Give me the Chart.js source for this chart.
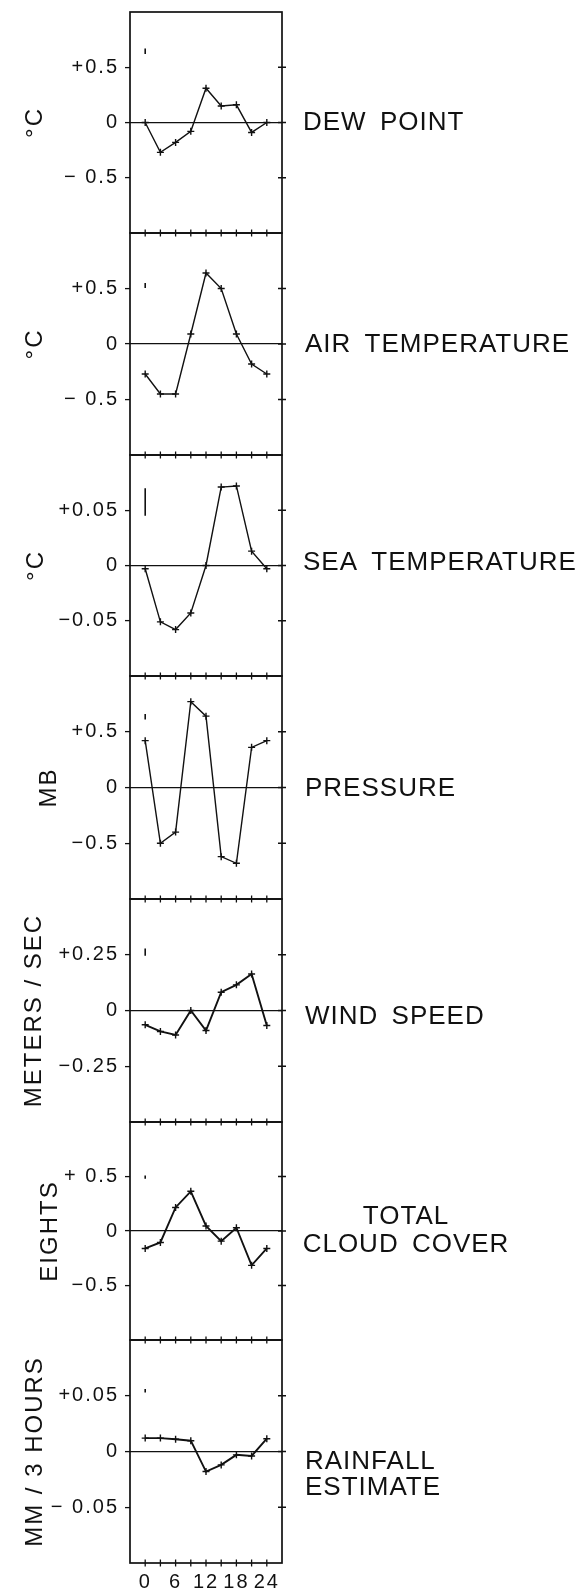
<!DOCTYPE html>
<html>
<head>
<meta charset="utf-8">
<script src="https://cdn.jsdelivr.net/npm/chart.js@4.4.1/dist/chart.umd.min.js"></script>
<style>
  html, body { margin: 0; padding: 0; background: #fff; }
  #page { position: relative; width: 587px; height: 1594px; overflow: hidden; background: #fff; }
  #page canvas { position: absolute; left: 0; }
</style>
</head>
<body>
<div id="page"></div>
<script>
// Hour of day (local time), 3-hourly composites
const hours = [0, 3, 6, 9, 12, 15, 18, 21, 24];

// Diurnal departures from the daily mean
const dewPoint   = [0.00, -0.27, -0.18, -0.08, 0.31, 0.15, 0.16, -0.09, 0.00];
const airTemp    = [-0.27, -0.45, -0.45, 0.09, 0.64, 0.50, 0.09, -0.18, -0.27];
const seaTemp    = [-0.003, -0.051, -0.058, -0.043, 0.000, 0.071, 0.072, 0.013, -0.003];
const pressure   = [0.42, -0.50, -0.40, 0.77, 0.64, -0.62, -0.68, 0.36, 0.42];
const windSpeed  = [-0.064, -0.094, -0.110, 0.000, -0.090, 0.082, 0.115, 0.164, -0.067];
const cloudCover = [-0.16, -0.105, 0.216, 0.364, 0.046, -0.093, 0.03, -0.315, -0.16];
const rainfall   = [0.012, 0.012, 0.011, 0.0097, -0.018, -0.012, -0.003, -0.004, 0.0115];

// Error bar for each variable: [low, high]
const errDewPoint   = [0.62, 0.67];
const errAirTemp    = [0.505, 0.55];
const errSeaTemp    = [0.045, 0.070];
const errPressure   = [0.61, 0.66];
const errWindSpeed  = [0.245, 0.278];
const errCloudCover = [0.48, 0.51];
const errRainfall   = [0.053, 0.056];

// Panel names and units
const panelNames = [
  ['DEW POINT'], ['AIR TEMPERATURE'], ['SEA TEMPERATURE'], ['PRESSURE'],
  ['WIND SPEED'], ['TOTAL', 'CLOUD COVER'], ['RAINFALL', 'ESTIMATE']
];
const unitTitles = ['°C', '°C', '°C', 'MB', 'METERS / SEC', 'EIGHTS', 'MM / 3 HOURS'];

// Axis ranges and y tick labels
const yLimits = [1, 1, 0.1, 1, 0.5, 1, 0.1];
const yTickValues = [
  [0.5, 0, -0.5], [0.5, 0, -0.5], [0.05, 0, -0.05], [0.5, 0, -0.5],
  [0.25, 0, -0.25], [0.5, 0, -0.5], [0.05, 0, -0.05]
];
const yTickLabels = [
  ['+0.5', '0', '\u2212 0.5'], ['+0.5', '0', '\u2212 0.5'], ['+0.05', '0', '\u22120.05'],
  ['+0.5', '0', '\u22120.5'], ['+0.25', '0', '\u22120.25'], ['+ 0.5', '0', '\u22120.5'],
  ['+0.05', '0', '\u2212 0.05']
];
const xTickValues = [0, 6, 12, 18, 24];
const xTickLabels = ['0', '6', '12', '18', '24'];

const series = [dewPoint, airTemp, seaTemp, pressure, windSpeed, cloudCover, rainfall];
const errors = [errDewPoint, errAirTemp, errSeaTemp, errPressure, errWindSpeed, errCloudCover, errRainfall];

// Page layout of the stacked panels (pixels)
const FONT = '"Liberation Sans", Arial, Helvetica, sans-serif';
const INK = '#111';
const PAD = 6;
const FRAME_LEFT = 130, FRAME_RIGHT = 282, PAGE_W = 587;
const panelLayout = [
  { top: 12,   bottom: 233,  titleX: 35, labelX: 303, labelY: [123],        align: 'left',   lw: 1.4 },
  { top: 233,  bottom: 455,  titleX: 35, labelX: 305, labelY: [345],        align: 'left',   lw: 1.4 },
  { top: 455,  bottom: 676,  titleX: 36, labelX: 303, labelY: [563],        align: 'left',   lw: 1.4 },
  { top: 676,  bottom: 899,  titleX: 49, labelX: 305, labelY: [789],        align: 'left',   lw: 1.4 },
  { top: 899,  bottom: 1122, titleX: 34, labelX: 305, labelY: [1017],       align: 'left',   lw: 1.9 },
  { top: 1122, bottom: 1340, titleX: 50, labelX: 406, labelY: [1217, 1245], align: 'center', lw: 1.9 },
  { top: 1340, bottom: 1563, titleX: 35, labelX: 305, labelY: [1462, 1488], align: 'left',   lw: 1.9 }
];

// Wider lettering for all chart text
const lettering = {
  id: 'lettering',
  beforeDraw(chart) {
    chart.ctx.letterSpacing = '2px';
  }
};

// Plot frame, tick crosses on bottom and right edges, and the variable name
const panelFrame = {
  id: 'panelFrame',
  afterDraw(chart, args, opts) {
    const { ctx, chartArea } = chart;
    const { left, right, top, bottom } = chartArea;
    const xs = chart.scales.x, ys = chart.scales.y;
    ctx.save();
    ctx.strokeStyle = INK;
    ctx.lineWidth = 1.7;
    ctx.strokeRect(left, top, right - left, bottom - top);

    ctx.lineWidth = 1.3;
    ctx.beginPath();
    hours.forEach(h => {
      const x = xs.getPixelForValue(h);
      ctx.moveTo(x, bottom - 3.5);
      ctx.lineTo(x, bottom + 3.5);
    });
    opts.ticks.forEach(v => {
      const y = ys.getPixelForValue(v);
      ctx.moveTo(right - 4, y);
      ctx.lineTo(right + 4, y);
    });
    ctx.stroke();

    ctx.fillStyle = INK;
    ctx.font = '26px ' + FONT;
    ctx.letterSpacing = '1px';
    ctx.wordSpacing = '5px';
    ctx.textBaseline = 'middle';
    ctx.textAlign = opts.align;
    opts.lines.forEach((line, i) => {
      ctx.fillText(line, opts.labelX, opts.labelY[i] - opts.canvasTop);
    });
    ctx.restore();
  }
};

const page = document.getElementById('page');

panelLayout.forEach((lay, i) => {
  const isLast = i === panelLayout.length - 1;
  const xAxisH = isLast ? 40 : 0;
  const canvasTop = lay.top - PAD;
  const height = lay.bottom - lay.top + PAD + (isLast ? xAxisH : PAD);

  const canvas = document.createElement('canvas');
  canvas.width = PAGE_W;
  canvas.height = height;
  canvas.style.top = canvasTop + 'px';
  canvas.style.width = PAGE_W + 'px';
  canvas.style.height = height + 'px';
  page.appendChild(canvas);

  const values = series[i];
  const err = errors[i];

  new Chart(canvas, {
    type: 'line',
    data: {
      datasets: [
        {
          data: hours.map((h, k) => ({ x: h, y: values[k] })),
          borderColor: INK,
          borderWidth: lay.lw,
          pointStyle: 'cross',
          pointRadius: 3.5,
          pointBorderWidth: 1.4,
          pointBorderColor: INK,
          tension: 0,
          fill: false
        },
        {
          data: [{ x: 0, y: err[0] }, { x: 0, y: err[1] }],
          borderColor: INK,
          borderWidth: 1.6,
          pointRadius: 0,
          fill: false
        }
      ]
    },
    options: {
      responsive: false,
      animation: false,
      devicePixelRatio: 1,
      events: [],
      layout: {
        padding: { left: 0, right: PAGE_W - FRAME_RIGHT, top: PAD, bottom: isLast ? 0 : PAD }
      },
      plugins: {
        legend: { display: false },
        tooltip: { enabled: false },
        panelFrame: {
          ticks: yTickValues[i],
          lines: panelNames[i],
          labelX: lay.labelX,
          labelY: lay.labelY,
          align: lay.align,
          canvasTop: canvasTop
        }
      },
      scales: {
        x: {
          type: 'linear',
          min: -3,
          max: 27,
          display: isLast,
          afterBuildTicks: s => { s.ticks = xTickValues.map(v => ({ value: v })); },
          afterFit: s => { s.height = xAxisH; s.paddingLeft = 0; s.paddingRight = 0; },
          grid: { display: false, drawTicks: false },
          border: { display: false },
          ticks: {
            autoSkip: false,
            maxRotation: 0,
            padding: 7,
            color: INK,
            font: { family: FONT, size: 20 },
            callback: v => xTickLabels[xTickValues.indexOf(v)]
          }
        },
        y: {
          type: 'linear',
          min: -yLimits[i],
          max: yLimits[i],
          afterBuildTicks: s => { s.ticks = yTickValues[i].map(v => ({ value: v })); },
          afterFit: s => { s.width = FRAME_LEFT; s.paddingTop = 0; s.paddingBottom = 0; },
          border: { display: false },
          grid: {
            color: c => (c.tick && c.tick.value === 0 ? INK : 'rgba(0,0,0,0)'),
            lineWidth: 1.2,
            drawTicks: true,
            tickLength: 5,
            tickColor: INK,
            tickWidth: 1.3
          },
          ticks: {
            autoSkip: false,
            padding: 6,
            color: INK,
            font: { family: FONT, size: 20 },
            callback: v => yTickLabels[i][yTickValues[i].indexOf(v)]
          },
          title: {
            display: true,
            text: unitTitles[i],
            color: INK,
            font: { family: FONT, size: 24 },
            padding: { top: lay.titleX - 14.4, bottom: 0 }
          }
        }
      }
    },
    plugins: [lettering, panelFrame]
  });
});
</script>
</body>
</html>
